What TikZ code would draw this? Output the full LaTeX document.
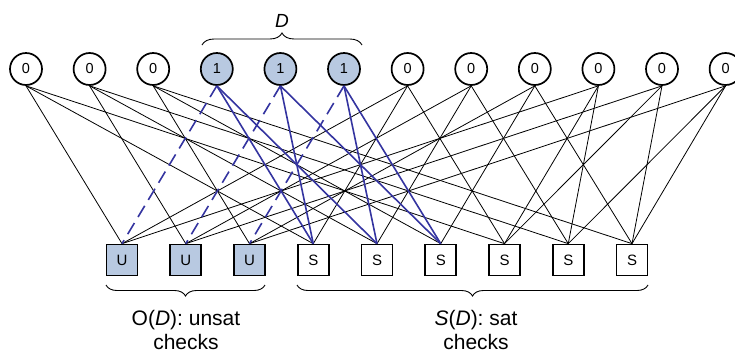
\documentclass[tikz,border=0pt]{standalone}
\usepackage{fontspec}
\setmainfont{Liberation Sans}
\usetikzlibrary{decorations.pathreplacing}
\definecolor{setfill}{RGB}{184,201,225}
\definecolor{setedge}{RGB}{52,52,160}
\begin{document}
\begin{tikzpicture}[x=1pt,y=-1pt,
  var/.style={circle,draw,line width=1.7pt,minimum size=32pt,inner sep=0pt,font=\fontsize{14.5}{14.5}\selectfont},
  chk/.style={rectangle,draw,line width=1.7pt,minimum size=31pt,inner sep=0pt,font=\fontsize{15}{15}\selectfont},
  marked/.style={fill=setfill},
  plain/.style={line width=0.8pt},
  hot/.style={line width=1.6pt,draw=setedge},
  hotdash/.style={hot,dash pattern=on 13pt off 7pt},
  brc/.style={decorate,decoration={brace,amplitude=#1},line width=0.9pt},
  lbl/.style={font=\fontsize{21}{24}\selectfont,align=center}
]
\useasboundingbox (0,0) rectangle (735,354);
\clip (0,0) rectangle (735,354);

% variable nodes
\foreach \i/\b in {0/0,1/0,2/0,3/1,4/1,5/1,6/0,7/0,8/0,9/0,10/0,11/0}{
  \ifnum\b=1
    \node[var,marked] (v\i) at ({26+63.6*\i},69) {\b};
  \else
    \node[var] (v\i) at ({26+63.6*\i},69) {\b};
  \fi
}
% check nodes
\foreach \j in {0,1,2}{
  \node[chk,marked] (c\j) at ({122+63.75*\j},260) {U};
}
\foreach \j in {3,...,8}{
  \node[chk] (c\j) at ({122+63.75*\j},260) {S};
}

% ordinary edges
\foreach \a/\b in {0/0,0/3,0/6, 1/1,1/4,1/7, 2/2,2/5,2/8,
                   6/0,6/3,6/6, 7/1,7/4,7/7, 8/2,8/5,8/8,
                   9/0,9/6,9/7, 10/1,10/6,10/8, 11/2,11/7,11/8}{
  \draw[plain] (v\a.south) -- (c\b.north);
}
% edges of the set D
\foreach \a/\b in {3/0,4/1,5/2}{
  \draw[hotdash] (v\a.south) -- (c\b.north);
}
\foreach \a/\b in {3/3,3/4,4/3,4/5,5/4,5/5}{
  \draw[hot] (v\a.south) -- (c\b.north);
}

% braces and labels
\draw[brc=12pt] (202,45) -- (362,45) coordinate[midway] (db);
\node[font=\fontsize{19}{19}\selectfont\itshape] (dl) at (282,21) {D};
\draw[brc=11pt] (265,285) -- (106,285) coordinate[midway] (ob);
\draw[brc=11pt] (648,285) -- (297,285) coordinate[midway] (sb);
\node[lbl,anchor=north] (ol) at (186,307) {O(\textit{D}): unsat\\checks};
\node[lbl,anchor=north] (sl) at (476,307) {\textit{S}(\textit{D}): sat\\checks};
\end{tikzpicture}
\end{document}
